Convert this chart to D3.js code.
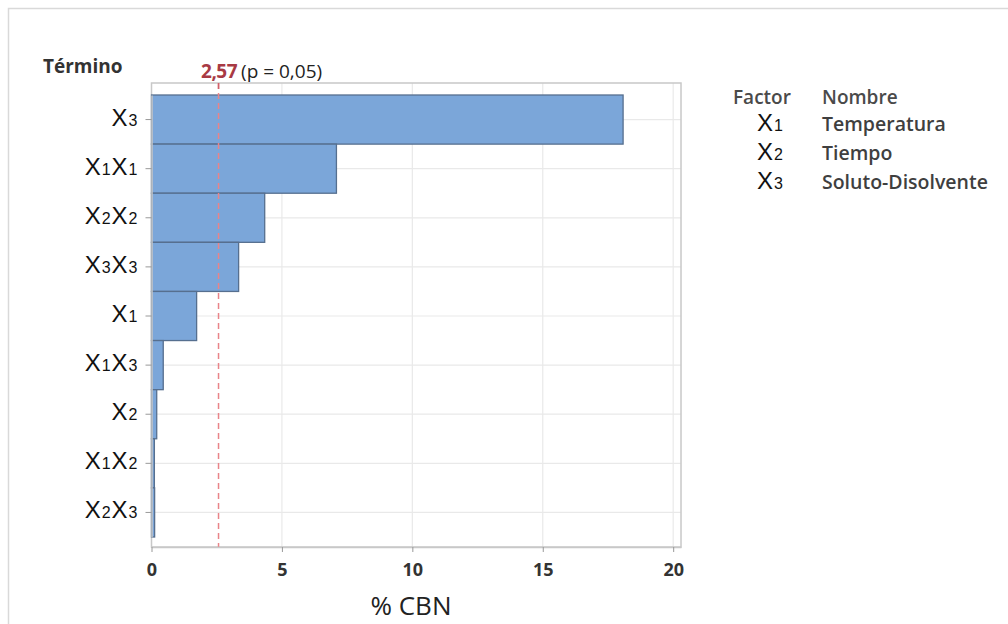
<!DOCTYPE html>
<html>
<head>
<meta charset="utf-8">
<script src="https://cdn.jsdelivr.net/npm/d3@7"></script>
<style>
  html, body { margin: 0; padding: 0; background: #fff; }
  svg { display: block; }
</style>
</head>
<body>
<svg id="chart" width="1008" height="624"></svg>
<script>
// Pareto chart of standardized effects (response: % CBN), alpha = 0.05
const terms   = ["X3", "X1X1", "X2X2", "X3X3", "X1", "X1X3", "X2", "X1X2", "X2X3"];
const effects = [18.08, 7.09, 4.34, 3.34, 1.73, 0.45, 0.20, 0.11, 0.12];
const xTicks  = [0, 5, 10, 15, 20];
const critical = 2.57;
const criticalNote = "(p = 0,05)";
const legendFactors = ["X1", "X2", "X3"];
const legendNames   = ["Temperatura", "Tiempo", "Soluto-Disolvente"];

const svg = d3.select("#chart");
const sansUI = "'Open Sans', 'Noto Sans', sans-serif";
const sansArial = "'Liberation Sans', Arial, sans-serif";

// outer panel border
svg.append("rect")
  .attr("x", 8.5).attr("y", 8.5).attr("width", 1020).attr("height", 640)
  .attr("fill", "none").attr("stroke", "#d9d9d9").attr("stroke-width", 1.5);

const plot = { left: 151.5, right: 681, top: 83, bottom: 547 };

const x = d3.scaleLinear().domain([0, 20.3]).range([plot.left, plot.right]);
const y = d3.scaleBand().domain(terms).range([95, 537]).padding(0);

// Split a term like "X1X3" into [ ["X","1"], ["X","3"] ]
function termParts(t) {
  return (t.match(/X\d/g) || []).map(s => [s[0], s[1]]);
}
function writeTerm(sel, t, big, small) {
  termParts(t).forEach(([letter, idx]) => {
    sel.append("tspan").attr("font-size", big).text(letter);
    sel.append("tspan").attr("font-size", small).text(idx);
  });
}

// grid lines
svg.append("g").selectAll("line.vg")
  .data(xTicks.filter(d => d > 0))
  .join("line")
  .attr("x1", d => x(d)).attr("x2", d => x(d))
  .attr("y1", plot.top).attr("y2", plot.bottom)
  .attr("stroke", "#e9e9e9").attr("stroke-width", 1.2);

svg.append("g").selectAll("line.hg")
  .data(terms)
  .join("line")
  .attr("x1", plot.left).attr("x2", plot.right)
  .attr("y1", d => y(d) + y.bandwidth() / 2).attr("y2", d => y(d) + y.bandwidth() / 2)
  .attr("stroke", "#e9e9e9").attr("stroke-width", 1.2);

// plot frame
svg.append("rect")
  .attr("x", plot.left).attr("y", plot.top)
  .attr("width", plot.right - plot.left).attr("height", plot.bottom - plot.top)
  .attr("fill", "none").attr("stroke", "#c8c8c8").attr("stroke-width", 1.5);

// bars
svg.append("g").selectAll("rect")
  .data(terms.map((t, i) => ({ t, v: effects[i] })))
  .join("rect")
  .attr("x", x(0))
  .attr("y", d => y(d.t))
  .attr("width", d => x(d.v) - x(0))
  .attr("height", y.bandwidth())
  .attr("fill", "#7ba6d9")
  .attr("stroke", "#566f8f")
  .attr("stroke-width", 1.3);

// reference line at the critical value
svg.append("line")
  .attr("x1", x(critical)).attr("x2", x(critical))
  .attr("y1", plot.top).attr("y2", plot.bottom)
  .attr("stroke", "#e98489").attr("stroke-width", 1.5)
  .attr("stroke-dasharray", "6,4");
svg.append("line")
  .attr("x1", x(critical)).attr("x2", x(critical))
  .attr("y1", plot.top).attr("y2", plot.top + 6)
  .attr("stroke", "#d0606a").attr("stroke-width", 1.5);

const critLabel = svg.append("text")
  .attr("x", x(critical) - 17.5).attr("y", 78)
  .attr("font-family", sansUI).attr("font-size", 19);
critLabel.append("tspan").attr("fill", "#a83a44").attr("font-weight", 700)
  .attr("letter-spacing", -0.5)
  .text(d3.format(".2f")(critical).replace(".", ","));
critLabel.append("tspan").attr("fill", "#222").attr("dx", 4)
  .attr("letter-spacing", 0).text(criticalNote);

// x axis
const xAxis = svg.append("g")
  .attr("transform", `translate(0,${plot.bottom})`)
  .call(d3.axisBottom(x).tickValues(xTicks).tickSize(5).tickSizeOuter(0)
    .tickPadding(11).tickFormat(d3.format("d")));
xAxis.select(".domain").attr("stroke", "#c8c8c8").attr("stroke-width", 1.5);
xAxis.selectAll(".tick line").attr("stroke", "#999");
xAxis.selectAll(".tick text")
  .attr("font-family", sansUI).attr("font-size", 18).attr("font-weight", 700)
  .attr("fill", "#333");

// y axis with subscripted term labels
const yAxis = svg.append("g")
  .attr("transform", `translate(${plot.left},0)`)
  .call(d3.axisLeft(y).tickSize(6).tickSizeOuter(0).tickPadding(7));
yAxis.select(".domain").attr("stroke", "#c8c8c8").attr("stroke-width", 1.5);
yAxis.selectAll(".tick line").attr("stroke", "#999");
yAxis.selectAll(".tick text").each(function(t) {
  const el = d3.select(this);
  el.text(null)
    .attr("font-family", sansArial).attr("fill", "#111")
    .attr("letter-spacing", 1)
    .attr("dy", "6px");
  writeTerm(el, t, 24, 16);
});

// axis titles
svg.append("text")
  .attr("x", 43).attr("y", 73)
  .attr("font-family", sansUI).attr("font-size", 19).attr("font-weight", 700)
  .attr("fill", "#333").text("Término");

svg.append("text")
  .attr("x", 411).attr("y", 615).attr("text-anchor", "middle")
  .attr("font-family", sansUI).attr("font-size", 26)
  .attr("fill", "#222").text("% CBN");

// factor legend
const legend = svg.append("g").attr("font-family", sansUI);
legend.append("text").attr("x", 733).attr("y", 104)
  .attr("font-size", 19).attr("font-weight", 600).attr("fill", "#4a4a4a").text("Factor");
legend.append("text").attr("x", 822).attr("y", 104)
  .attr("font-size", 19).attr("font-weight", 600).attr("fill", "#4a4a4a").text("Nombre");

const rowY = d3.scalePoint().domain(legendFactors).range([131, 189]);
legendFactors.forEach((f, i) => {
  const t = legend.append("text").attr("x", 757).attr("y", rowY(f))
    .attr("font-family", sansArial).attr("fill", "#111").attr("letter-spacing", 1);
  writeTerm(t, f, 24, 16);
  legend.append("text").attr("x", 822).attr("y", rowY(f))
    .attr("font-size", 19.5).attr("font-weight", 600).attr("fill", "#3f3f3f")
    .text(legendNames[i]);
});
</script>
</body>
</html>
